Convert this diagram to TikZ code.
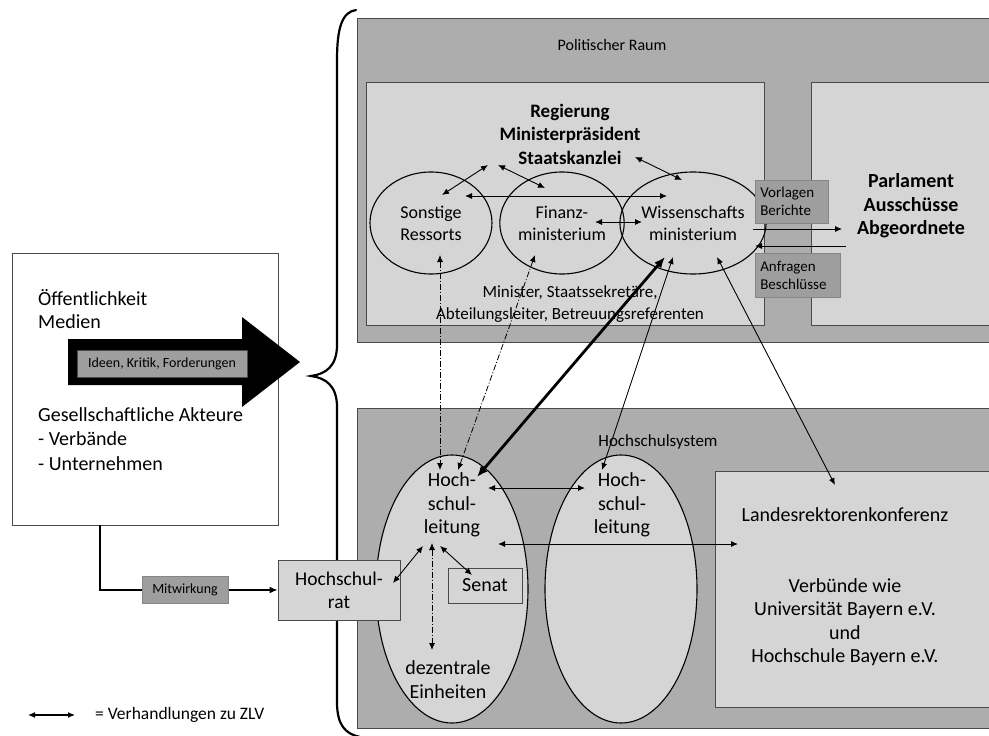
\documentclass[tikz,border=0pt]{standalone}
\usepackage{fontspec}
\setmainfont{Carlito}
\usetikzlibrary{arrows.meta,shapes.geometric}
\definecolor{outergray}{HTML}{ADADAD}
\definecolor{innergray}{HTML}{D5D5D5}
\definecolor{taggray}{HTML}{9E9E9E}
\definecolor{edgegray}{HTML}{4A4A4A}
\begin{document}
\begin{tikzpicture}[x=1pt,y=-1pt,
  every node/.style={inner sep=0pt, text=black},
  frame/.style={draw=edgegray, line width=1pt},
  outerbox/.style={frame, fill=outergray, anchor=north west},
  innerbox/.style={frame, fill=innergray, anchor=north west},
  ell/.style={ellipse, draw=black, line width=1.1pt},
  tagbox/.style={fill=taggray, draw=taggray!85!black, line width=0.6pt},
  fs/.style n args={2}{font=\fontsize{#1}{#2}\selectfont},
  arr/.style={{Latex[length=7pt,width=6pt]}-{Latex[length=7pt,width=6pt]}, line width=0.9pt},
  thickarr/.style={{Latex[length=11pt,width=9pt]}-{Latex[length=11pt,width=9pt]}, line width=2.8pt},
  dd/.style={{Latex[length=7pt,width=6pt]}-{Latex[length=7pt,width=6pt]}, line width=0.8pt,
    dash pattern=on 6pt off 2pt on 1pt off 2pt}
]
\useasboundingbox (0,0) rectangle (989,736);
\fill[white] (0,0) rectangle (989,736);

% brace
\draw[line width=2.2pt, line cap=round]
  (356,10) .. controls (342,12) and (337,28) .. (337,60) -- (337,345)
  .. controls (337,366) and (326,374) .. (311,376)
  .. controls (326,378) and (337,386) .. (337,407) -- (337,702)
  .. controls (337,726) and (346,734) .. (360,737);

% public box and big arrow
\node[frame, fill=white, anchor=north west, minimum width=266, minimum height=272] (pub) at (12,253) {};
\fill[black] (68,339) -- (242,339) -- (242,317) -- (300,362) -- (242,407) -- (242,385) -- (68,385) -- cycle;
\node[tagbox, draw=black!70, minimum width=170, minimum height=27, fs={14}{16}] (ideen) at (162,363.5) {Ideen, Kritik, Forderungen};
\node[anchor=west, align=left, fs={20}{23}] (oeff) at (38,309) {Öffentlichkeit\\Medien};
\node[anchor=west, align=left, fs={20}{24.5}] (ges) at (38,439) {Gesellschaftliche Akteure\\- Verbände\\- Unternehmen};

% political space
\node[outerbox, minimum width=633, minimum height=324] (pol) at (357,18) {};
\node[fs={16}{18}] (poltitle) at (612,45) {Politischer Raum};
\node[innerbox, minimum width=398, minimum height=243] (reg) at (366,82) {};
\node[innerbox, minimum width=178, minimum height=243] (parl) at (811,82) {};

\node[align=center, font=\bfseries\fontsize{19}{23.5}\selectfont] (regtext) at (570,134) {Regierung\\Ministerpräsident\\Staatskanzlei};
\node[ell, minimum width=122, minimum height=102, align=center, fs={18}{22}] (sonst) at (431,223) {Sonstige\\Ressorts};
\node[ell, minimum width=124, minimum height=102, align=center, fs={18}{22}] (fin) at (562,223) {Finanz-\\ministerium};
\node[ell, minimum width=120, minimum height=102, align=center, fs={18}{22}] (wiss) at (693,223) {Wissenschafts\\ministerium};
\node[align=center, fs={17}{22}] (minister) at (570,304) {Minister, Staatssekretäre,\\Abteilungsleiter, Betreuungsreferenten};

\node[align=center, font=\bfseries\fontsize{20}{23.5}\selectfont] (parltext) at (911,206) {Parlament\\Ausschüsse\\Abgeordnete};

\node[tagbox, anchor=north west, minimum width=73, minimum height=43, align=left, text width=63pt, inner xsep=5pt, fs={15}{18}] (vorl) at (755,180) {Vorlagen\\Berichte};
\node[tagbox, anchor=north west, minimum width=85, minimum height=44, align=left, text width=75pt, inner xsep=5pt, fs={15}{18}] (anfr) at (755,253) {Anfragen\\Beschlüsse};

% government arrows
\coordinate (r1) at (488,165); \coordinate (s1) at (442,195);
\coordinate (r2) at (498,165); \coordinate (f1) at (545,188);
\coordinate (r3) at (635,157); \coordinate (w1) at (682,180);
\coordinate (s2) at (465,196); \coordinate (w2) at (667,196);
\coordinate (f2) at (595,222); \coordinate (w3) at (642,222);
\draw[arr] (s1) -- (r1);
\draw[arr] (r2) -- (f1);
\draw[arr] (r3) -- (w1);
\draw[arr] (s2) -- (w2);
\draw[arr] (f2) -- (w3);
\coordinate (w4) at (753,229); \coordinate (p1) at (842,229);
\coordinate (p2) at (846,246); \coordinate (w5) at (755,246);
\draw[line width=0.9pt, -{Latex[length=7pt,width=6pt]}] (w4) -- (p1);
\draw[line width=0.9pt, -{Latex[length=7pt,width=6pt]}] (p2) -- (w5);

% university system
\node[outerbox, minimum width=633, minimum height=320] (hs) at (357,408) {};
\node[fs={17}{19}] (hstitle) at (658,442) {Hochschulsystem};
\node[ell, fill=innergray, minimum width=152, minimum height=268] (hl1) at (452,589) {};
\node[ell, fill=innergray, minimum width=152, minimum height=268] (hl2) at (621,589) {};
\node[innerbox, minimum width=274, minimum height=236] (lrk) at (715,471) {};

\node[align=center, fs={20}{23.5}] (hl1text) at (452,505) {Hoch-\\schul-\\leitung};
\node[align=center, fs={20}{23.5}] (hl2text) at (622,505) {Hoch-\\schul-\\leitung};
\node[frame, fill=innergray, minimum width=74, minimum height=35, fs={20}{22}] (senat) at (485,585.5) {Senat};
\node[align=center, fs={20}{24}] (dez) at (448,680) {dezentrale\\Einheiten};
\node[fs={20}{22}] (lrktext) at (845,515) {Landesrektorenkonferenz};
\node[align=center, fs={20}{23.5}] (verb) at (845,622) {Verbünde wie\\Universität Bayern e.V.\\und\\Hochschule Bayern e.V.};

% Hochschulrat and Mitwirkung
\node[frame, fill=innergray, minimum width=122, minimum height=60, align=center, fs={19.5}{23}] (rat) at (339,590) {Hochschul-\\rat};
\coordinate (mw0) at (100,525);
\draw[line width=1.3pt, -{Latex[length=8pt,width=7pt]}] (mw0) |- (rat.west);
\node[tagbox, minimum width=86, minimum height=27, fs={14}{16}] (mitw) at (185,590) {Mitwirkung};

% university arrows
\coordinate (h1) at (488,488); \coordinate (h2) at (585,488);
\draw[arr] (h1) -- (h2);
\coordinate (h3) at (498,544); \coordinate (l1) at (738,544);
\draw[arr] (h3) -- (l1);
\coordinate (ra) at (393,583); \coordinate (h4) at (423,546);
\draw[arr] (ra) -- (h4);
\coordinate (h5) at (440,546); \coordinate (se) at (472,575);
\draw[arr] (h5) -- (se);
\coordinate (h6) at (432,543); \coordinate (de) at (432,650);
\draw[dd] (h6) -- (de);

% cross arrows
\coordinate (s3) at (440,255); \coordinate (h7) at (440,470);
\draw[dd] (s3) -- (h7);
\coordinate (f3) at (535,255); \coordinate (h8) at (458,470);
\draw[dd] (f3) -- (h8);
\coordinate (w6) at (665,257); \coordinate (h9) at (477,477);
\draw[thickarr] (w6) -- (h9);
\coordinate (w7) at (673,257); \coordinate (h10) at (602,470);
\draw[arr] (w7) -- (h10);
\coordinate (w8) at (717,257); \coordinate (l2) at (835,485);
\draw[arr] (w8) -- (l2);

% legend
\coordinate (lg1) at (28,715); \coordinate (lg2) at (75,715);
\draw[arr, line width=1.2pt] (lg1) -- (lg2);
\node[anchor=west, fs={17.5}{19}] (legtext) at (95,715) {= Verhandlungen zu ZLV};
\end{tikzpicture}
\end{document}
